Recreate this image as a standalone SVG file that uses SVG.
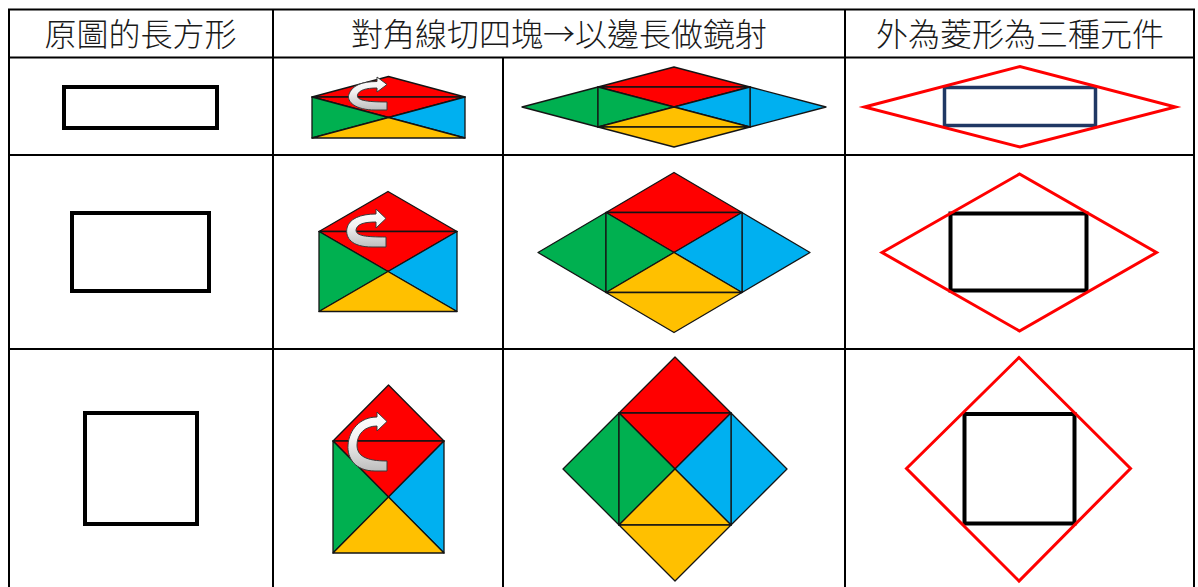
<svg xmlns="http://www.w3.org/2000/svg" width="1198" height="587" viewBox="0 0 1198 587">
<defs>
<linearGradient id="ag" x1="0" y1="0" x2="0" y2="1">
<stop offset="0" stop-color="#FFFFFF"/>
<stop offset="0.45" stop-color="#F2F2F2"/>
<stop offset="1" stop-color="#BDBDBD"/>
</linearGradient>
<style>
.hdr{font-family:"Noto Sans CJK TC","Noto Sans CJK SC",sans-serif;font-size:32px;font-weight:300;fill:#1a1a1a;text-anchor:middle}
.grid{stroke:#000;stroke-width:2;fill:none}
.t{stroke:#141414;stroke-width:1.3;stroke-linejoin:round}
.r{fill:#FF0000}.g{fill:#00B050}.b{fill:#00B0F0}.y{fill:#FFC000}
.orig{fill:none;stroke:#000;stroke-width:4}
.navy{fill:none;stroke:#203864;stroke-width:3.5}
.rh{fill:none;stroke:#FF0000;stroke-width:3;stroke-linejoin:miter}
.arw{fill:url(#ag);stroke:#3a3a3a;stroke-width:1}
</style>
</defs>
<rect x="0" y="0" width="1198" height="587" fill="#FFFFFF"/>

<g id="grid">
<line class="grid" x1="8" y1="9.5" x2="1195" y2="9.5"/>
<line class="grid" x1="8" y1="57.5" x2="1195" y2="57.5"/>
<line class="grid" x1="8" y1="155" x2="1195" y2="155"/>
<line class="grid" x1="8" y1="349" x2="1195" y2="349"/>
<line class="grid" x1="9" y1="9" x2="9" y2="587"/>
<line class="grid" x1="273" y1="9" x2="273" y2="587"/>
<line class="grid" x1="503" y1="57.5" x2="503" y2="587"/>
<line class="grid" x1="845" y1="9" x2="845" y2="587"/>
<line class="grid" x1="1194" y1="9" x2="1194" y2="587"/>
</g>

<g id="headers">
<text class="hdr" x="140.5" y="46">原圖的長方形</text>
<text class="hdr" x="559" y="46">對角線切四塊→以邊長做鏡射</text>
<text class="hdr" x="1020" y="46">外為菱形為三種元件</text>
</g>

<g id="orig-row1"><rect class="orig" x="64" y="87" width="153" height="41"/></g>
<g id="orig-row2"><rect class="orig" x="72" y="213" width="137" height="78"/></g>
<g id="orig-row3"><rect class="orig" x="85" y="413" width="112" height="111"/></g>

<g id="env-row1">
<polygon class="t r" points="312,97 388.5,76.5 465,97"/>
<polygon class="t r" points="312,97 465,97 388.5,117.5"/>
<polygon class="t g" points="312,97 388.5,117.5 312,138"/>
<polygon class="t b" points="465,97 388.5,117.5 465,138"/>
<polygon class="t y" points="312,138 388.5,117.5 465,138"/>
<path class="arw" d="M387 110 L375 110 C356 110 346 102 349 94 C352 86 361 81.5 377 81.5 L377 77 L387 84.5 L377 92 L377 88 C366 88 359 90 357.5 95 C356.5 100 365 102 387 102 Z"/>
</g>

<g id="env-row2">
<polygon class="t r" points="319,231.5 388,191.5 457,231.5"/>
<polygon class="t r" points="319,231.5 457,231.5 388,271.5"/>
<polygon class="t g" points="319,231.5 388,271.5 319,311.5"/>
<polygon class="t b" points="457,231.5 388,271.5 457,311.5"/>
<polygon class="t y" points="319,311.5 388,271.5 457,311.5"/>
<path class="arw" d="M386 247 L372 247 C352 247 345 238 347 228 C349 219 360 214 376 214 L376 209 L386 218.5 L376 228 L376 222 C364 222 357 224 356 230 C356 236 366 237 386 237 Z"/>
</g>

<g id="env-row3">
<polygon class="t r" points="333,441 388.5,385 444,441"/>
<polygon class="t r" points="333,441 444,441 388.5,497"/>
<polygon class="t g" points="333,441 388.5,497 333,553"/>
<polygon class="t b" points="444,441 388.5,497 444,553"/>
<polygon class="t y" points="333,553 388.5,497 444,553"/>
<path class="arw" d="M387 471 L375 471 C355 471 347 458 348 445 C349 430 360 417 377 417 L377 412 L387 421.5 L377 431 L377 426 C365 426 357 434 357 445 C357 456 366 461 387 461 Z"/>
</g>

<g id="mirror-row1">
<polygon class="t r" points="598,87 674,67 750,87"/>
<polygon class="t r" points="598,87 750,87 674,107"/>
<polygon class="t g" points="598,87 522,107 598,127"/>
<polygon class="t g" points="598,87 674,107 598,127"/>
<polygon class="t b" points="750,87 826,107 750,127"/>
<polygon class="t b" points="750,87 674,107 750,127"/>
<polygon class="t y" points="598,127 674,107 750,127"/>
<polygon class="t y" points="598,127 674,147 750,127"/>
</g>

<g id="mirror-row2">
<polygon class="t r" points="606,212.5 674,172.5 742,212.5"/>
<polygon class="t r" points="606,212.5 742,212.5 674,252.5"/>
<polygon class="t g" points="606,212.5 538,252.5 606,292.5"/>
<polygon class="t g" points="606,212.5 674,252.5 606,292.5"/>
<polygon class="t b" points="742,212.5 810,252.5 742,292.5"/>
<polygon class="t b" points="742,212.5 674,252.5 742,292.5"/>
<polygon class="t y" points="606,292.5 674,252.5 742,292.5"/>
<polygon class="t y" points="606,292.5 674,332.5 742,292.5"/>
</g>

<g id="mirror-row3">
<polygon class="t r" points="619,413 675,357 731,413"/>
<polygon class="t r" points="619,413 731,413 675,469"/>
<polygon class="t g" points="619,413 563,469 619,525"/>
<polygon class="t g" points="619,413 675,469 619,525"/>
<polygon class="t b" points="731,413 787,469 731,525"/>
<polygon class="t b" points="731,413 675,469 731,525"/>
<polygon class="t y" points="619,525 675,469 731,525"/>
<polygon class="t y" points="619,525 675,581 731,525"/>
</g>

<g id="rhombus-row1">
<rect class="navy" x="944.5" y="87.5" width="151" height="38"/>
<polygon class="rh" points="864.5,107 1020,66.5 1175.5,107 1020,147"/>
</g>
<g id="rhombus-row2">
<rect class="orig" x="950.5" y="213.5" width="136" height="77"/>
<polygon class="rh" points="882,252.5 1019.5,174 1156.5,252.5 1019.5,331"/>
</g>
<g id="rhombus-row3">
<rect class="orig" x="964.5" y="414" width="110" height="109.5"/>
<polygon class="rh" points="906.5,468.5 1019,357.5 1130.5,468.5 1019,581"/>
</g>
</svg>
